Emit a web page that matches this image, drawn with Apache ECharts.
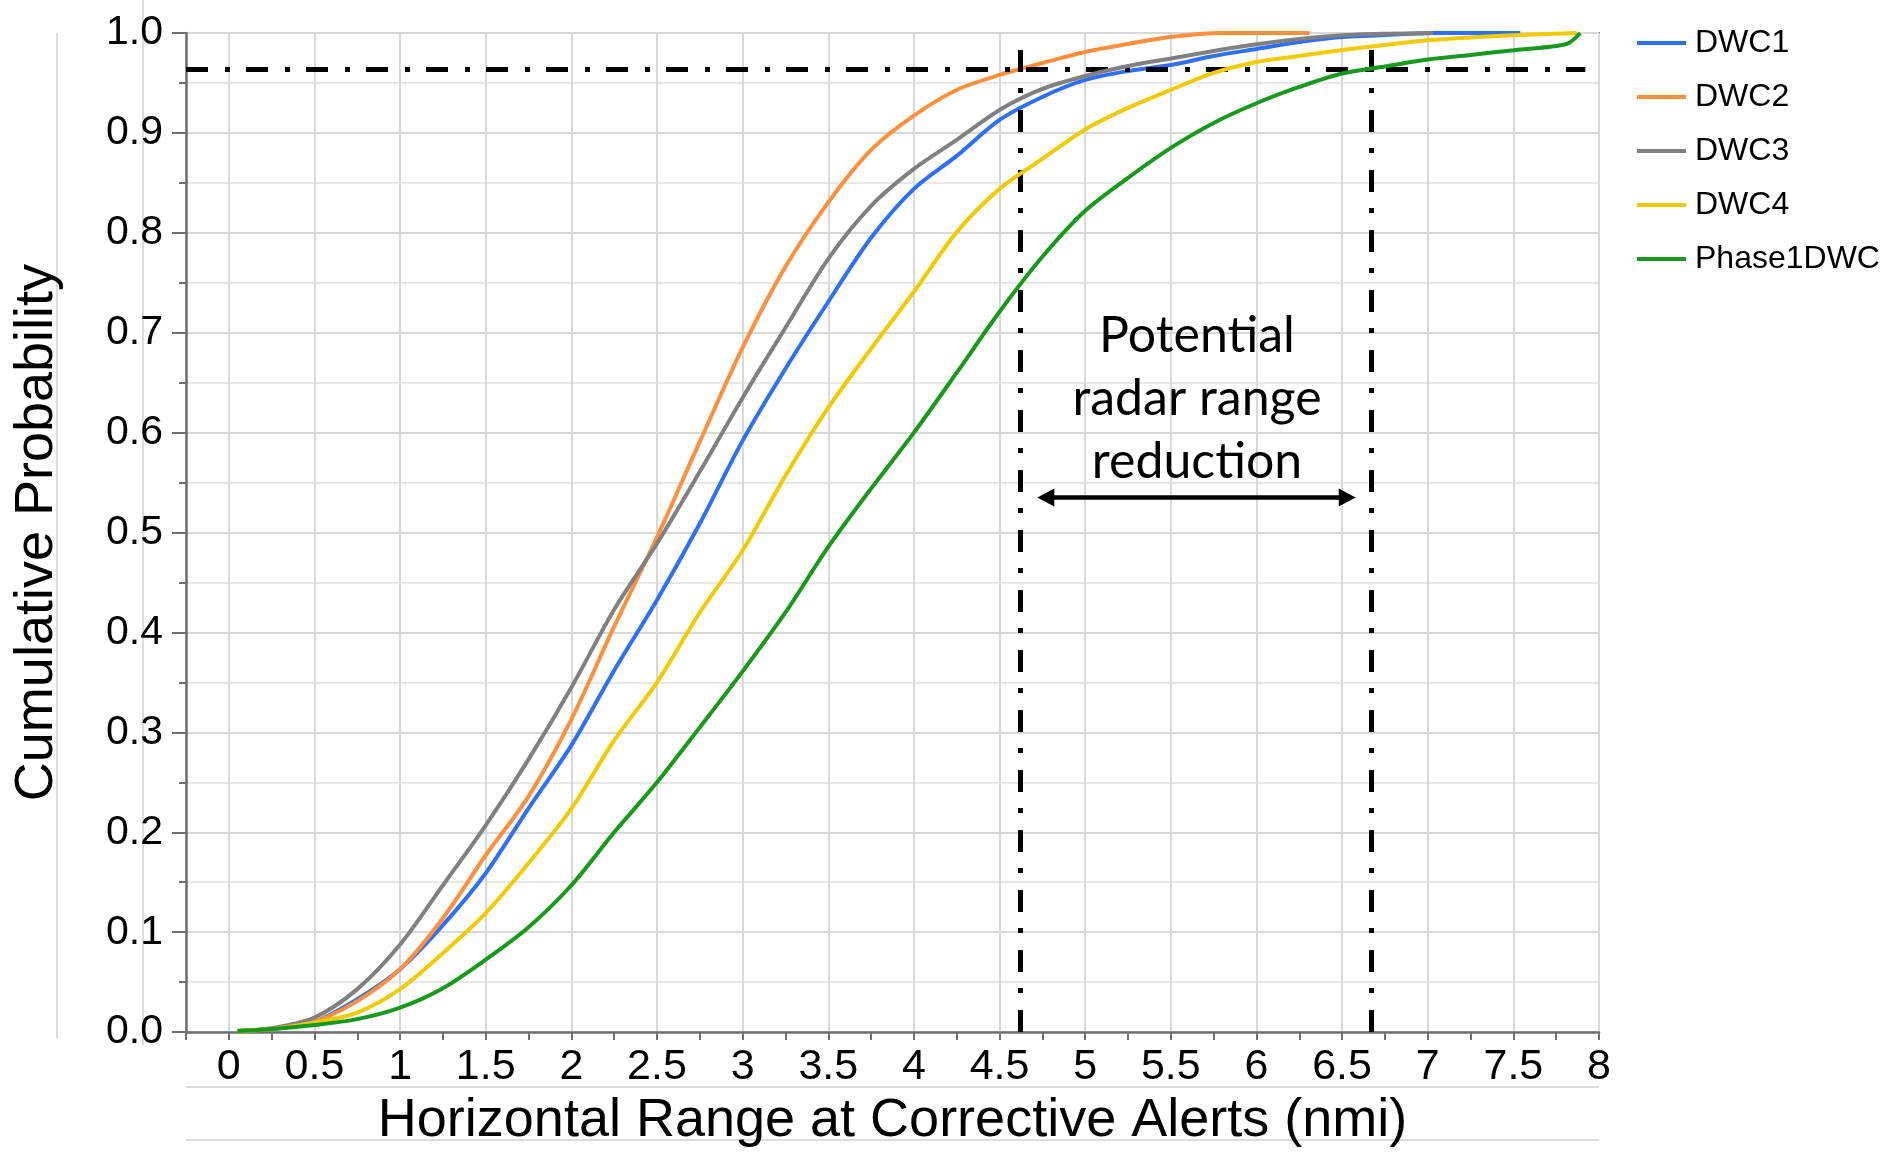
<!DOCTYPE html>
<html>
<head>
<meta charset="utf-8">
<script src="https://cdn.jsdelivr.net/npm/echarts@6/dist/echarts.min.js"></script>
<style>
  html, body { margin: 0; padding: 0; background: #ffffff; }
  #chart { width: 1892px; height: 1153px; }
</style>
</head>
<body>
<div id="chart"></div>
<script>
// Cumulative distributions of horizontal range (nmi) at corrective alerts
const seriesNames = ['DWC1', 'DWC2', 'DWC3', 'DWC4', 'Phase1DWC'];
const seriesColors = ['#2d6ff6', '#ff8f3b', '#808080', '#f1cb00', '#17991c'];

const dwc1 = [
  [0.05, 0.001], [0.25, 0.003], [0.5, 0.0105], [0.75, 0.033], [1.0, 0.063],
  [1.25, 0.107], [1.5, 0.159], [1.75, 0.224], [2.0, 0.287], [2.25, 0.362],
  [2.5, 0.4325], [2.75, 0.509], [3.0, 0.592], [3.25, 0.664], [3.5, 0.731],
  [3.75, 0.795], [4.0, 0.844], [4.25, 0.877], [4.5, 0.913], [4.75, 0.936],
  [5.0, 0.953], [5.25, 0.962], [5.5, 0.968], [5.75, 0.977], [6.0, 0.984],
  [6.25, 0.991], [6.5, 0.996], [6.75, 0.998], [7.05, 1.0], [7.54, 1.0]
];
const dwc2 = [
  [0.05, 0.001], [0.25, 0.003], [0.5, 0.0105], [0.75, 0.031], [1.0, 0.063],
  [1.25, 0.114], [1.5, 0.177], [1.75, 0.236], [2.0, 0.313], [2.25, 0.406],
  [2.5, 0.4955], [2.75, 0.591], [3.0, 0.685], [3.25, 0.766], [3.5, 0.8305],
  [3.75, 0.883], [4.0, 0.9174], [4.25, 0.943], [4.5, 0.958], [4.75, 0.970],
  [5.0, 0.981], [5.25, 0.989], [5.5, 0.996], [5.8, 1.0], [6.31, 1.0]
];
const dwc3 = [
  [0.05, 0.001], [0.25, 0.004], [0.5, 0.0146], [0.75, 0.043], [1.0, 0.0876],
  [1.25, 0.147], [1.5, 0.207], [1.75, 0.273], [2.0, 0.345], [2.25, 0.423],
  [2.5, 0.489], [2.75, 0.561], [3.0, 0.635], [3.25, 0.705], [3.5, 0.774],
  [3.75, 0.827], [4.0, 0.864], [4.25, 0.893], [4.5, 0.923], [4.75, 0.944],
  [5.0, 0.957], [5.25, 0.967], [5.5, 0.9745], [5.75, 0.982], [6.0, 0.9887],
  [6.25, 0.994], [6.5, 0.9977], [6.75, 0.9992], [7.03, 1.0]
];
const dwc4 = [
  [0.05, 0.001], [0.25, 0.003], [0.5, 0.0096], [0.75, 0.0196], [1.0, 0.043],
  [1.25, 0.079], [1.5, 0.119], [1.75, 0.169], [2.0, 0.2236], [2.25, 0.292],
  [2.5, 0.350], [2.75, 0.420], [3.0, 0.482], [3.25, 0.557], [3.5, 0.625],
  [3.75, 0.684], [4.0, 0.741], [4.25, 0.8007], [4.5, 0.844], [4.75, 0.874],
  [5.0, 0.9035], [5.25, 0.925], [5.5, 0.943], [5.75, 0.960], [6.0, 0.971],
  [6.25, 0.977], [6.5, 0.983], [6.75, 0.988], [7.0, 0.9927], [7.25, 0.9955],
  [7.5, 0.9977], [7.87, 1.0]
];
const phase1 = [
  [0.05, 0.001], [0.25, 0.003], [0.5, 0.007], [0.75, 0.013], [1.0, 0.0245],
  [1.25, 0.044], [1.5, 0.0726], [1.75, 0.105], [2.0, 0.147], [2.25, 0.200],
  [2.5, 0.250], [2.75, 0.305], [3.0, 0.361], [3.25, 0.420], [3.5, 0.4856],
  [3.75, 0.544], [4.0, 0.600], [4.25, 0.660], [4.5, 0.721], [4.75, 0.776],
  [5.0, 0.822], [5.25, 0.855], [5.5, 0.885], [5.75, 0.910], [6.0, 0.9297],
  [6.25, 0.946], [6.5, 0.9595], [6.75, 0.9665], [7.0, 0.9735], [7.25, 0.978],
  [7.5, 0.9828], [7.81, 0.989], [7.89, 1.0]
];
const seriesData = [dwc1, dwc2, dwc3, dwc4, phase1];

// Reference probability level and the ranges where DWC2 / Phase1DWC reach it
const refLevel = 0.964;
const refRanges = [4.62, 6.67];
const refLineEnd = 7.92;
// Double-headed arrow between the two ranges
const arrowSpan = [4.77, 6.53];
const arrowLevel = 0.535;
const annotation = ['Potential', 'radar range', 'reduction'];

const xMin = -0.25, xMax = 8;
const yMin = 0, yMax = 1;

const axisFont = "'Liberation Sans', Arial, Helvetica, sans-serif";
const dashPattern = [22, 17, 5, 16];

const chart = echarts.init(document.getElementById('chart'), null, { renderer: 'canvas' });

const lineSeries = seriesNames.map((name, i) => ({
  name: name,
  type: 'line',
  data: seriesData[i],
  showSymbol: false,
  smooth: 0.3,
  clip: false,
  lineStyle: { color: seriesColors[i], width: 4 },
  itemStyle: { color: seriesColors[i] },
  z: 3 + i
}));

const refSeries = {
  name: 'reference',
  type: 'line',
  data: [],
  silent: true,
  z: 20,
  markLine: {
    silent: true,
    symbol: ['none', 'none'],
    label: { show: false },
    animation: false,
    lineStyle: { color: '#000000', width: 5, type: dashPattern },
    data: [
      [{ coord: [xMin, refLevel] }, { coord: [refLineEnd, refLevel] }],
      [{ coord: [refRanges[0], yMin] }, { coord: [refRanges[0], yMax] }],
      [{ coord: [refRanges[1], yMin] }, { coord: [refRanges[1], yMax] }]
    ]
  }
};

const arrowSeries = {
  name: 'arrow',
  type: 'line',
  data: [],
  silent: true,
  z: 21,
  markLine: {
    silent: true,
    symbol: ['triangle', 'triangle'],
    symbolSize: [18, 17],
    label: { show: false },
    animation: false,
    lineStyle: { color: '#000000', width: 4.5, type: 'solid' },
    itemStyle: { color: '#000000' },
    data: [
      [{ coord: [arrowSpan[0], arrowLevel] }, { coord: [arrowSpan[1], arrowLevel] }]
    ]
  }
};

const lightLine = { stroke: '#dcdcdc', lineWidth: 2 };

const option = {
  backgroundColor: '#ffffff',
  animation: false,
  grid: {
    left: 186, top: 33, width: 1413, height: 1005,
    show: true, borderColor: '#7f7f7f', borderWidth: 2, containLabel: false
  },
  legend: {
    orient: 'vertical',
    left: 1632, top: 22,
    icon: 'rect',
    itemWidth: 49, itemHeight: 4,
    itemGap: 22,
    data: seriesNames,
    textStyle: { fontFamily: axisFont, fontSize: 32, color: '#000000', lineHeight: 32, padding: [0, 0, 0, 4] }
  },
  xAxis: {
    type: 'value',
    min: xMin, max: xMax,
    minInterval: 0.5, maxInterval: 0.5,
    name: 'Horizontal Range at Corrective Alerts (nmi)',
    nameLocation: 'middle',
    nameGap: 58,
    nameTextStyle: { fontFamily: axisFont, fontSize: 54, color: '#000000' },
    axisLine: { show: true, onZero: false, lineStyle: { color: '#6f6f6f', width: 2.5 } },
    axisTick: { show: true, length: 8, lineStyle: { color: '#6f6f6f', width: 2 } },
    minorTick: { show: true, splitNumber: 2, length: 8, lineStyle: { color: '#6f6f6f', width: 2 } },
    axisLabel: {
      show: true, margin: 14, interval: 0,
      fontFamily: axisFont, fontSize: 43, color: '#000000',
      formatter: v => (Math.abs(v * 2 - Math.round(v * 2)) < 1e-6 ? String(+v.toFixed(2)) : '')
    },
    splitLine: { show: true, lineStyle: { color: '#d8d8d8', width: 2 } },
    minorSplitLine: { show: false }
  },
  yAxis: {
    type: 'value',
    min: yMin, max: yMax, interval: 0.1,
    name: 'Cumulative Probability',
    nameLocation: 'middle',
    nameRotate: 90,
    nameGap: 122,
    nameTextStyle: { fontFamily: axisFont, fontSize: 54, color: '#000000' },
    axisLine: { show: true, onZero: false, lineStyle: { color: '#6f6f6f', width: 2.5 } },
    axisTick: { show: true, length: 14, lineStyle: { color: '#6f6f6f', width: 2 } },
    minorTick: { show: true, splitNumber: 2, length: 7, lineStyle: { color: '#6f6f6f', width: 2 } },
    axisLabel: {
      show: true, margin: 23,
      fontFamily: axisFont, fontSize: 41, color: '#000000',
      formatter: v => v.toFixed(1)
    },
    splitLine: { show: true, lineStyle: { color: '#d8d8d8', width: 2 } },
    minorSplitLine: { show: true, lineStyle: { color: '#e8e8e8', width: 2 } }
  },
  graphic: [
    { type: 'line', z: -10, silent: true, shape: { x1: 57, y1: 33, x2: 57, y2: 1038 }, style: lightLine },
    { type: 'line', z: -10, silent: true, shape: { x1: 143, y1: 0, x2: 143, y2: 1045 }, style: lightLine },
    { type: 'line', z: -10, silent: true, shape: { x1: 186, y1: 1087, x2: 1599, y2: 1087 }, style: lightLine },
    { type: 'line', z: -10, silent: true, shape: { x1: 186, y1: 1140, x2: 1599, y2: 1140 }, style: lightLine },
    {
      type: 'text', z: 50, silent: true,
      x: 1197, y: 304,
      style: {
        text: annotation.join('\n'),
        fontFamily: "Lato, 'Open Sans', sans-serif",
        fontSize: 50,
        lineHeight: 63,
        fill: '#000000',
        align: 'center',
        verticalAlign: 'top'
      }
    }
  ],
  series: lineSeries.concat([refSeries, arrowSeries])
};

chart.setOption(option);
</script>
</body>
</html>
